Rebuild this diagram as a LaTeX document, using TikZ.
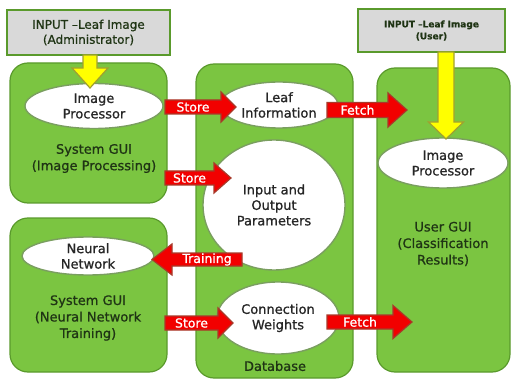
\documentclass[tikz,border=0pt]{standalone}
\usepackage{fontspec}
\setmainfont{DejaVu Sans}[FakeBold=0.6]
\usetikzlibrary{shapes.geometric}

\definecolor{panelgreen}{HTML}{7BC541}
\definecolor{paneledge}{HTML}{5A9A2C}
\definecolor{inputgray}{HTML}{D9D9D9}
\definecolor{ovaledge}{HTML}{7A9E60}
\definecolor{arrowred}{HTML}{F20000}
\definecolor{arrowrededge}{HTML}{A83A2A}
\definecolor{arrowyellow}{HTML}{FFFF00}
\definecolor{arrowyellowedge}{HTML}{A0A030}
\definecolor{labelgreen}{HTML}{1F3414}

\newfontfamily\heavyfont{DejaVu Sans}[FakeBold=0.9, Ligatures=TeX]

\tikzset{
  panel/.style={draw=paneledge, line width=1.2pt, fill=panelgreen, rounded corners=18pt, inner sep=0pt},
  inputbox/.style={draw=paneledge, line width=1.2pt, fill=inputgray, inner sep=0pt, align=center},
  oval/.style={ellipse, draw=ovaledge, line width=1.4pt, fill=white, inner sep=0pt, align=center,
    font=\heavyfont\fontsize{13}{15.5}\selectfont, text=black!85},
  panellabel/.style={align=center, font=\heavyfont\fontsize{13}{16.5}\selectfont, text=labelgreen},
  redarrow/.style={fill=arrowred, draw=arrowrededge, line width=1.2pt, line join=miter},
  redlabel/.style={text=white, font=\heavyfont\fontsize{12.5}{14}\selectfont, inner sep=0pt},
  yellowarrow/.style={fill=arrowyellow, draw=arrowyellowedge, line width=1.2pt, line join=miter}
}

% horizontal block arrow: start x, head base x, tip x, centre y, shaft half width, head half width, label
\newcommand\blockarrowh[7]{%
  \draw[redarrow] (#1,#4-#5) -- (#2,#4-#5) -- (#2,#4-#6) -- (#3,#4) -- (#2,#4+#6)
    -- (#2,#4+#5) -- (#1,#4+#5) -- cycle;
  \node[redlabel] at ({(#1+#2)/2},#4) {#7};}

% vertical block arrow: centre x, start y, head base y, tip y, shaft half width, head half width
\newcommand\blockarrowv[6]{%
  \draw[yellowarrow] (#1-#5,#2) -- (#1-#5,#3) -- (#1-#6,#3) -- (#1,#4) -- (#1+#6,#3)
    -- (#1+#5,#3) -- (#1+#5,#2) -- cycle;}

\begin{document}
\begin{tikzpicture}[x=1pt, y=-1pt]
\useasboundingbox (0,0) rectangle (513,379);

% input boxes
\node[inputbox, minimum width=163pt, minimum height=45pt, font=\heavyfont\fontsize{12}{15}\selectfont,
  text=labelgreen] (inadmin) at (88.5,32.5) {INPUT –Leaf Image\\(Administrator)};
\node[inputbox, minimum width=147pt, minimum height=43pt, font=\bfseries\fontsize{9}{12}\selectfont,
  text=labelgreen] (inuser) at (431.5,30.5) {INPUT –Leaf Image\\(User)};

% green panels
\node[panel, minimum width=157pt, minimum height=140pt] (sysimg) at (88.5,133) {};
\node[panel, minimum width=157pt, minimum height=154pt] (sysnn) at (88.5,295) {};
\node[panel, minimum width=157pt, minimum height=314pt] (db) at (274.5,221) {};
\node[panel, minimum width=133pt, minimum height=304pt] (usergui) at (443.5,220) {};

% panel captions
\node[panellabel] (sysimglabel) at (94,158.5) {System GUI\\(Image Processing)};
\node[panellabel] (sysnnlabel) at (88,318) {System GUI\\(Neural Network\\Training)};
\node[panellabel] (userguilabel) at (443,244) {User GUI\\(Classification\\Results)};
\node[panellabel] (dblabel) at (275,366) {Database};

% ovals
\node[oval, minimum width=138pt, minimum height=45pt] (improcA) at (94,106) {Image\\Processor};
\node[oval, minimum width=118pt, minimum height=46pt] (leafinfo) at (279,105) {Leaf\\Information};
\node[oval, minimum width=142pt, minimum height=130pt] (params) at (274,205) {Input and\\Output\\Parameters};
\node[oval, minimum width=122pt, minimum height=72pt] (connw) at (278,318) {Connection\\Weights};
\node[oval, minimum width=132pt, minimum height=38pt] (neural) at (88,256) {Neural\\Network};
\node[oval, minimum width=130pt, minimum height=50pt] (improcB) at (443,163) {Image\\Processor};

% yellow input arrows
\blockarrowv{90}{55}{68}{88}{7}{18}
\blockarrowv{446}{52}{122}{139}{8}{17.5}

% red data arrows
\blockarrowh{165}{221}{236}{107}{7}{15}{Store}
\blockarrowh{165}{214}{231}{178}{7}{15}{Store}
\blockarrowh{327}{388}{407}{110}{7.5}{17}{Fetch}
\blockarrowh{242}{172}{152}{259.5}{6.5}{15.5}{Training}
\blockarrowh{165}{218}{233}{323}{7}{15}{Store}
\blockarrowh{327}{393}{412}{322}{7}{16.5}{Fetch}
\end{tikzpicture}
\end{document}
